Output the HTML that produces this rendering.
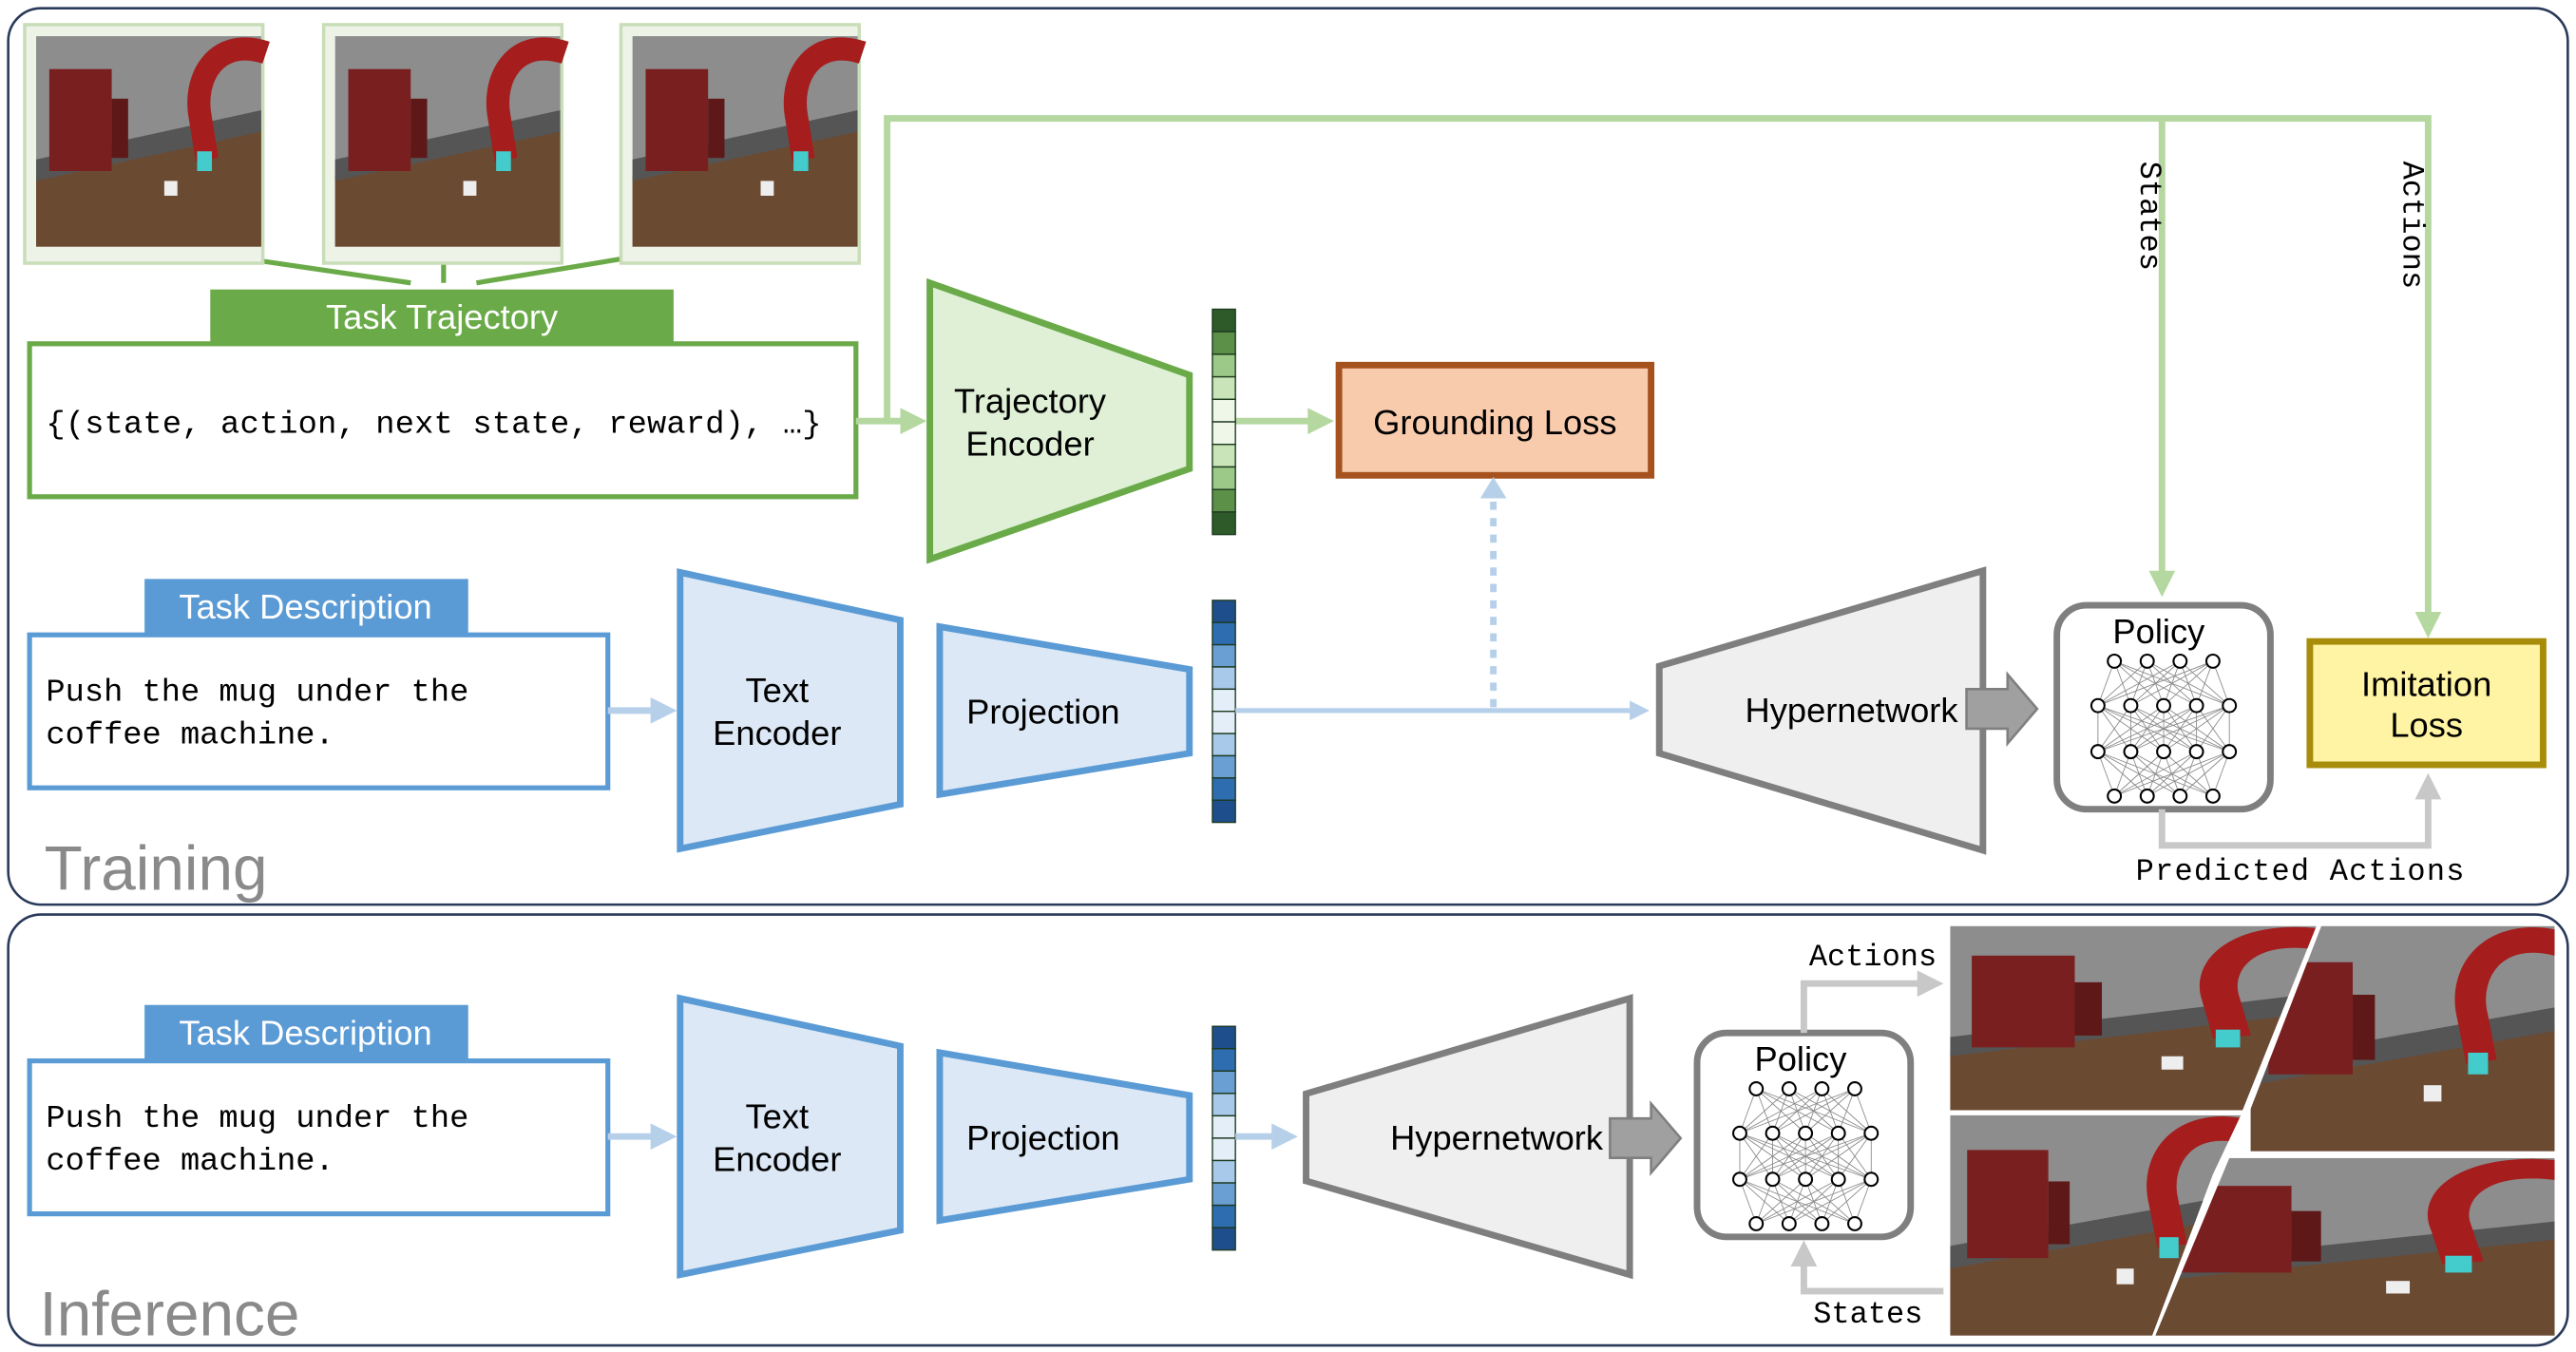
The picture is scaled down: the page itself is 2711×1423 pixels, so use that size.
<!DOCTYPE html>
<html><head><meta charset="utf-8"><style>
html,body{margin:0;padding:0;background:#fff}
svg{display:block}
text{font-family:"Liberation Sans",sans-serif}
.m{font-family:"Liberation Mono",monospace}
</style></head><body>
<svg id="s" width="2711" height="1423" viewBox="0 0 1568 822" preserveAspectRatio="none" xmlns="http://www.w3.org/2000/svg">
<defs>
<marker id="ag" markerWidth="4" markerHeight="4" refX="2" refY="2" orient="auto"><path d="M0,0L4,2L0,4z" fill="#b5d8a0"/></marker>
<marker id="ab" markerWidth="4" markerHeight="4" refX="2" refY="2" orient="auto"><path d="M0,0L4,2L0,4z" fill="#b7d0ea"/></marker>
<marker id="ay" markerWidth="4" markerHeight="4" refX="2" refY="2" orient="auto"><path d="M0,0L4,2L0,4z" fill="#c8c8c8"/></marker>
<g id="scene">
<rect x="0" y="0" width="137" height="128" fill="#8d8d8d"/>
<polygon points="0,85 137,55 137,128 0,128" fill="#6b4a32"/>
<polygon points="0,75 137,45 137,58 0,88" fill="#555"/>
<rect x="8" y="20" width="38" height="62" fill="#7a1f1f"/>
<rect x="46" y="38" width="10" height="36" fill="#5e1818"/>
<path d="M140,10 C110,0 95,25 100,50 L104,75" stroke="#a51d1d" stroke-width="14" fill="none"/>
<rect x="98" y="70" width="9" height="12" fill="#4cc"/>
<rect x="78" y="88" width="8" height="9" fill="#eee"/>
</g>
</defs>
<rect x="5" y="5" width="1558" height="545" rx="20" fill="#fff" stroke="#2a3a5a" stroke-width="1.5"/>
<rect x="5" y="556" width="1558" height="262" rx="20" fill="#fff" stroke="#2a3a5a" stroke-width="1.5"/>

<g stroke="#6aaa48" stroke-width="3"><line x1="120" y1="153" x2="250" y2="172"/><line x1="270" y1="153" x2="270" y2="172"/><line x1="405" y1="153" x2="290" y2="172"/></g>
<g><rect x="15" y="15" width="145" height="145" fill="#eef3e8" stroke="#c8ddb8" stroke-width="2"/><use href="#scene" x="22" y="22"/></g>
<g><rect x="197" y="15" width="145" height="145" fill="#eef3e8" stroke="#c8ddb8" stroke-width="2"/><use href="#scene" x="204" y="22"/></g>
<g><rect x="378" y="15" width="145" height="145" fill="#eef3e8" stroke="#c8ddb8" stroke-width="2"/><use href="#scene" x="385" y="22"/></g>

<rect x="128" y="176" width="282" height="34" fill="#6aaa48"/>
<text x="269" y="200" font-size="21" fill="#fff" text-anchor="middle">Task Trajectory</text>
<rect x="18" y="209" width="503" height="93" fill="#fff" stroke="#6aaa48" stroke-width="3"/>
<text x="28" y="263" class="m" font-size="19.5" textLength="472">{(state, action, next state, reward), …}</text>

<g stroke="#b5d8a0" stroke-width="4" fill="none">
<line x1="521" y1="256" x2="556" y2="256" marker-end="url(#ag)"/>
<polyline points="540,256 540,72 1478,72 1478,380" marker-end="url(#ag)"/>
<line x1="1316" y1="72" x2="1316" y2="355" marker-end="url(#ag)"/>
<line x1="752" y1="256" x2="804" y2="256" marker-end="url(#ag)"/>
</g>
<text class="m" font-size="18.5" transform="translate(1303,98) rotate(90)">States</text>
<text class="m" font-size="18.5" transform="translate(1463,98) rotate(90)">Actions</text>

<polygon points="566,172 724,228 724,285 566,340" fill="#dff0d6" stroke="#6aaa48" stroke-width="4"/>
<text x="627" y="251" font-size="21" text-anchor="middle">Trajectory</text>
<text x="627" y="277" font-size="21" text-anchor="middle">Encoder</text>
<g id="vg"></g>

<rect x="815" y="222" width="190" height="67" fill="#f8cbad" stroke="#a6521f" stroke-width="4"/>
<text x="910" y="264" font-size="21" text-anchor="middle">Grounding Loss</text>

<rect x="88" y="352" width="197" height="33" fill="#5b9bd5"/>
<text x="186" y="376" font-size="21" fill="#fff" text-anchor="middle">Task Description</text>
<rect x="18" y="386" width="352" height="93" fill="#fff" stroke="#5b9bd5" stroke-width="3"/>
<text x="28" y="426" class="m" font-size="19.5">Push the mug under the</text>
<text x="28" y="452" class="m" font-size="19.5">coffee machine.</text>
<line x1="370" y1="432" x2="404" y2="432" stroke="#b7d0ea" stroke-width="4" marker-end="url(#ab)"/>
<polygon points="414,348 548,377 548,489 414,516" fill="#dce8f5" stroke="#5b9bd5" stroke-width="4"/>
<text x="473" y="427" font-size="21" text-anchor="middle">Text</text>
<text x="473" y="453" font-size="21" text-anchor="middle">Encoder</text>
<polygon points="572,381 724,407 724,458 572,483" fill="#dce8f5" stroke="#5b9bd5" stroke-width="4"/>
<text x="635" y="440" font-size="21" text-anchor="middle">Projection</text>
<line x1="752" y1="432" x2="998" y2="432" stroke="#b7d0ea" stroke-width="3" marker-end="url(#ab)"/>
<line x1="909" y1="430" x2="909" y2="302" stroke="#b7d0ea" stroke-width="4" stroke-dasharray="5,5"/>
<path d="M901,303 L909,290 L917,303z" fill="#b7d0ea"/>
<polygon points="1010,405 1207,347 1207,517 1010,458" fill="#efefef" stroke="#7f7f7f" stroke-width="4"/>
<text x="1127" y="439" font-size="21" text-anchor="middle">Hypernetwork</text>
<path d="M1197,419 L1222,419 L1222,410 L1240,431 L1222,452 L1222,443 L1197,443z" fill="#a0a0a0" stroke="#7f7f7f" stroke-width="1.5"/>
<rect x="1252" y="368" width="130" height="124" rx="18" fill="#fff" stroke="#7f7f7f" stroke-width="4"/>
<text x="1314" y="391" font-size="21" text-anchor="middle">Policy</text>
<g id="n1"></g>
<rect x="1406" y="390" width="142" height="75" fill="#fff4a3" stroke="#a88d0a" stroke-width="4"/>
<text x="1477" y="423" font-size="21" text-anchor="middle">Imitation</text>
<text x="1477" y="448" font-size="21" text-anchor="middle">Loss</text>
<polyline points="1316,492 1316,514 1478,514 1478,478" fill="none" stroke="#c8c8c8" stroke-width="4" marker-end="url(#ay)"/>
<text x="1300" y="535" class="m" font-size="18.5" textLength="200">Predicted Actions</text>
<text x="27" y="541" font-size="38" fill="#8a8a8a">Training</text>

<rect x="88" y="611" width="197" height="33" fill="#5b9bd5"/>
<text x="186" y="635" font-size="21" fill="#fff" text-anchor="middle">Task Description</text>
<rect x="18" y="645" width="352" height="93" fill="#fff" stroke="#5b9bd5" stroke-width="3"/>
<text x="28" y="685" class="m" font-size="19.5">Push the mug under the</text>
<text x="28" y="711" class="m" font-size="19.5">coffee machine.</text>
<line x1="370" y1="691" x2="404" y2="691" stroke="#b7d0ea" stroke-width="4" marker-end="url(#ab)"/>
<polygon points="414,607 548,636 548,748 414,775" fill="#dce8f5" stroke="#5b9bd5" stroke-width="4"/>
<text x="473" y="686" font-size="21" text-anchor="middle">Text</text>
<text x="473" y="712" font-size="21" text-anchor="middle">Encoder</text>
<polygon points="572,640 724,666 724,717 572,742" fill="#dce8f5" stroke="#5b9bd5" stroke-width="4"/>
<text x="635" y="699" font-size="21" text-anchor="middle">Projection</text>
<line x1="752" y1="691" x2="782" y2="691" stroke="#b7d0ea" stroke-width="4" marker-end="url(#ab)"/>
<polygon points="795,665 992,607 992,775 795,718" fill="#efefef" stroke="#7f7f7f" stroke-width="4"/>
<text x="911" y="699" font-size="21" text-anchor="middle">Hypernetwork</text>
<path d="M980,680 L1005,680 L1005,671 L1023,692 L1005,713 L1005,704 L980,704z" fill="#a0a0a0" stroke="#7f7f7f" stroke-width="1.5"/>
<rect x="1033" y="628" width="130" height="124" rx="18" fill="#fff" stroke="#7f7f7f" stroke-width="4"/>
<text x="1096" y="651" font-size="21" text-anchor="middle">Policy</text>
<g id="n2"></g>
<polyline points="1098,628 1098,598 1175,598" fill="none" stroke="#c8c8c8" stroke-width="4" marker-end="url(#ay)"/>
<text x="1140" y="587" class="m" font-size="18.5" text-anchor="middle">Actions</text>
<polyline points="1183,785 1098,785 1098,762" fill="none" stroke="#c8c8c8" stroke-width="4" marker-end="url(#ay)"/>
<text x="1137" y="804" class="m" font-size="18.5" text-anchor="middle">States</text>
<clipPath id="c1"><polygon points="1187,563 1410,563 1365,675 1187,675"/></clipPath>
<clipPath id="c2"><polygon points="1413,563 1555,563 1555,700 1360,700"/></clipPath>
<clipPath id="c3"><polygon points="1187,678 1364,678 1347,714 1310,812 1187,812"/></clipPath>
<clipPath id="c4"><polygon points="1357,704 1555,704 1555,812 1312,812"/></clipPath>
<g clip-path="url(#c1)"><use href="#scene" transform="translate(1187,563) scale(1.65,0.9)"/></g>
<g clip-path="url(#c2)"><use href="#scene" transform="translate(1370,563) scale(1.35,1.1)"/></g>
<g clip-path="url(#c3)"><use href="#scene" transform="translate(1187,678) scale(1.3,1.06)"/></g>
<g clip-path="url(#c4)"><use href="#scene" transform="translate(1312,704) scale(1.8,0.85)"/></g>
<text x="24" y="812" font-size="38" fill="#8a8a8a">Inference</text>
</svg>
<script>
var NS="http://www.w3.org/2000/svg";
function el(p,t,a){var e=document.createElementNS(NS,t);for(var k in a)e.setAttribute(k,a[k]);p.appendChild(e);return e;}
function vec(x,y0,y1,cols){var g=document.getElementById("vg");var n=cols.length,h=(y1-y0)/n;for(var i=0;i<n;i++)el(g,"rect",{x:x,y:y0+i*h,width:14,height:h,fill:cols[i],stroke:"#1d3a20","stroke-width":0.8});}
vec(738,188,325,["#2e5a2a","#5c8f48","#9cc888","#c8e4b8","#eef7e8","#eef7e8","#c8e4b8","#9cc888","#5c8f48","#2e5a2a"]);
var bl=["#1f4e8c","#2e6db0","#6a9fd4","#a9c9ea","#e3eef9","#e3eef9","#a9c9ea","#6a9fd4","#2e6db0","#1f4e8c"];
vec(738,365,500,bl);vec(738,624,760,bl);
function net(id,cx,top){var g=document.getElementById(id);var rows=[[-30,-10,10,30],[-40,-20,0,20,40],[-40,-20,0,20,40],[-30,-10,10,30]];var ys=[top,top+27,top+55,top+82];
for(var r=0;r<3;r++)rows[r].forEach(function(a){rows[r+1].forEach(function(b){el(g,"line",{x1:cx+a,y1:ys[r],x2:cx+b,y2:ys[r+1],stroke:"#888","stroke-width":0.5});});});
for(var r=0;r<4;r++)rows[r].forEach(function(a){el(g,"circle",{cx:cx+a,cy:ys[r],r:4,fill:"#fff",stroke:"#000","stroke-width":1.2});});}
net("n1",1317,402);net("n2",1099,662);
</script>
</body></html>
